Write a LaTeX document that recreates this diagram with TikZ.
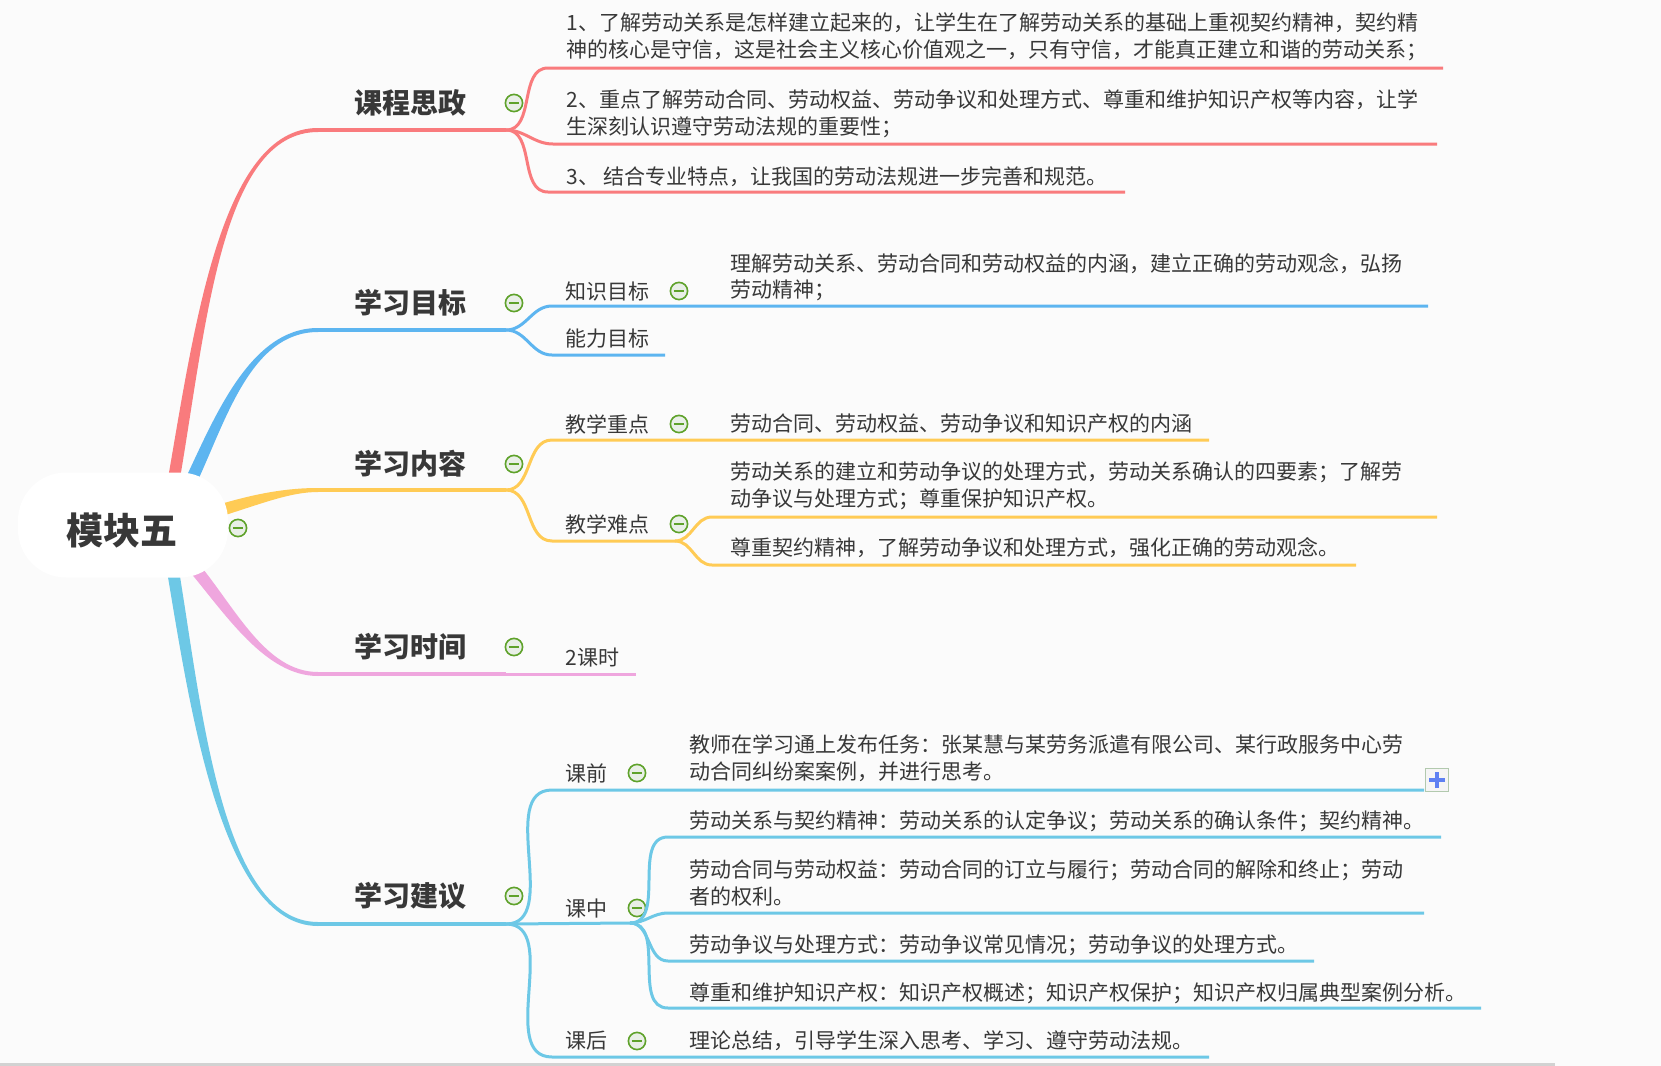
\documentclass[tikz,border=0pt]{standalone}
\usepackage{fontspec}
\setmainfont{Noto Sans CJK SC}
\usetikzlibrary{calc}
\definecolor{redB}{HTML}{F97B7D}
\definecolor{blueB}{HTML}{5DB5F0}
\definecolor{yellowB}{HTML}{FFCB55}
\definecolor{pinkB}{HTML}{EFA6DE}
\definecolor{cyanB}{HTML}{6DC8E6}
\definecolor{txtgrey}{HTML}{383838}
\definecolor{foldgreen}{HTML}{5FA22B}
\definecolor{foldfill}{HTML}{E9EFE7}
\definecolor{bgpaper}{HTML}{FBFBFB}
\definecolor{plusblue}{HTML}{5E80F2}
\definecolor{plusedge}{HTML}{B2C9AE}

\begin{document}
\begin{tikzpicture}[x=0.5pt, y=-0.5pt,
  hub/.style={rounded corners=24pt, fill=white, minimum width=105pt, minimum height=52.5pt, font=\fontsize{18.5}{22}\selectfont\bfseries, text=txtgrey},
  topic/.style={inner sep=0pt, font=\fontsize{14}{17}\selectfont\bfseries, text=txtgrey},
  leaf/.style={anchor=west, align=left, inner sep=0pt, font=\fontsize{10.5}{13.25}\selectfont, text=txtgrey},
  fold/.style={circle, draw=foldgreen, line width=0.8pt, fill=foldfill, minimum size=8.6pt, inner sep=0pt,
    path picture={\draw[foldgreen, line width=0.9pt] ($(path picture bounding box.center)+(-2.6pt,0pt)$) -- ($(path picture bounding box.center)+(2.6pt,0pt)$);}},
  plusbox/.style={rectangle, draw=plusedge, line width=0.9pt, fill=gray!8, minimum size=11.5pt, inner sep=0pt,
    path picture={\draw[plusblue, line width=2.2pt] ($(path picture bounding box.center)+(-4pt,0pt)$) -- ($(path picture bounding box.center)+(4pt,0pt)$);
                  \draw[plusblue, line width=2.2pt] ($(path picture bounding box.center)+(0pt,-4pt)$) -- ($(path picture bounding box.center)+(0pt,4pt)$);}},
  trunk/.style={line width=2pt},
  twig/.style={line width=1.5pt}
]
% paper
\fill[bgpaper] (0,0) rectangle (1661,1066);
\fill[gray!35] (0,1063) rectangle (1555,1066);

% branch roots and topic lines
\coordinate (s1) at (172,490);
\coordinate (s2) at (190,483);
\coordinate (s3) at (215,512);
\coordinate (s4) at (192,565);
\coordinate (s5) at (172,565);
\coordinate (kc-a) at (318,130); \coordinate (kc-f) at (506,130);
\coordinate (mb-a) at (318,330); \coordinate (mb-f) at (506,330);
\coordinate (nr-a) at (318,490); \coordinate (nr-f) at (506,490);
\coordinate (sj-a) at (318,674); \coordinate (sj-f) at (506,674);
\coordinate (jy-a) at (318,924); \coordinate (jy-f) at (506,924);

% main branches
\fill[redB] ($(s1)+(-6,0)$) .. controls +(28,-160) and +(-98,0) .. ($(kc-a)+(0,-2)$) -- ($(kc-a)+(0,2)$) .. controls +(-98,0) and +(28,-160) .. ($(s1)+(6,0)$) -- cycle;
\fill[blueB] ($(s2)+(-5.4,-2.6)$) .. controls +(30,-63) and +(-68,0) .. ($(mb-a)+(0,-2)$) -- ($(mb-a)+(0,2)$) .. controls +(-68,0) and +(30,-63) .. ($(s2)+(5.4,2.6)$) -- cycle;
\fill[yellowB] ($(s3)+(-1.8,-5.7)$) .. controls +(45,-14) and +(-28,0) .. ($(nr-a)+(0,-2)$) -- ($(nr-a)+(0,2)$) .. controls +(-28,0) and +(45,-14) .. ($(s3)+(1.8,5.7)$) -- cycle;
\fill[pinkB] ($(s4)+(-4.6,3.9)$) .. controls +(38,45) and +(-53,0) .. ($(sj-a)+(0,2)$) -- ($(sj-a)+(0,-2)$) .. controls +(-53,0) and +(38,45) .. ($(s4)+(4.6,-3.9)$) -- cycle;
\fill[cyanB] ($(s5)+(-5.9,1)$) .. controls +(23,135) and +(-98,0) .. ($(jy-a)+(0,2)$) -- ($(jy-a)+(0,-2)$) .. controls +(-98,0) and +(23,135) .. ($(s5)+(5.9,-1)$) -- cycle;
\draw[redB, trunk] (kc-a) -- (kc-f);
\draw[blueB, trunk] (mb-a) -- (mb-f);
\draw[yellowB, trunk] (nr-a) -- (nr-f);
\draw[pinkB, trunk] (sj-a) -- (sj-f);
\draw[cyanB, trunk] (jy-a) -- (jy-f);

% centre
\node[hub] (root) at (123,525) {};
\node[font=\fontsize{18.5}{22}\selectfont\bfseries, text=txtgrey, inner sep=0pt] (root-t) at (122,530) {模块五};
\node[fold] (root-o) at (238,528) {};

% 课程思政
\node[topic] (kc) at (410,103) {课程思政};
\node[fold] (kc-o) at (514,103) {};
\coordinate (kc1-a) at (548,68);  \coordinate (kc1-b) at (1443,68);
\coordinate (kc2-a) at (553,144); \coordinate (kc2-b) at (1437,144);
\coordinate (kc3-a) at (548,192); \coordinate (kc3-b) at (1125,192);
\draw[redB, twig] (kc-f) to[out=0,in=180] (kc1-a) -- (kc1-b);
\draw[redB, twig] (kc-f) to[out=0,in=180] (kc2-a) -- (kc2-b);
\draw[redB, twig] (kc-f) to[out=0,in=180] (kc3-a) -- (kc3-b);
\node[leaf] (kc1) at (566,37) {1、了解劳动关系是怎样建立起来的，让学生在了解劳动关系的基础上重视契约精神，契约精\\神的核心是守信，这是社会主义核心价值观之一，只有守信，才能真正建立和谐的劳动关系；};
\node[leaf] (kc2) at (566,114) {2、重点了解劳动合同、劳动权益、劳动争议和处理方式、尊重和维护知识产权等内容，让学\\生深刻认识遵守劳动法规的重要性；};
\node[leaf] (kc3) at (566,177) {3、 结合专业特点，让我国的劳动法规进一步完善和规范。};

% 学习目标
\node[topic] (mb) at (410,303) {学习目标};
\node[fold] (mb-o) at (514,303) {};
\coordinate (mb1-a) at (552,306); \coordinate (mb1-b) at (1428,306);
\coordinate (mb2-a) at (552,355); \coordinate (mb2-b) at (665,355);
\draw[blueB, twig] (mb-f) to[out=0,in=180] (mb1-a) -- (mb1-b);
\draw[blueB, twig] (mb-f) to[out=0,in=180] (mb2-a) -- (mb2-b);
\node[leaf] (mb1) at (565,291) {知识目标};
\node[fold] (mb1-o) at (679,291) {};
\node[leaf] (mb11) at (730,277) {理解劳动关系、劳动合同和劳动权益的内涵，建立正确的劳动观念，弘扬\\劳动精神；};
\node[leaf] (mb2) at (565,339) {能力目标};

% 学习内容
\node[topic] (nr) at (410,464) {学习内容};
\node[fold] (nr-o) at (514,464) {};
\coordinate (nr1-a) at (552,440); \coordinate (nr1-b) at (1209,440);
\coordinate (nr2-a) at (552,541); \coordinate (nr2-f) at (675,541);
\draw[yellowB, twig] (nr-f) to[out=0,in=180] (nr1-a) -- (nr1-b);
\draw[yellowB, twig] (nr-f) to[out=0,in=180] (nr2-a) -- (nr2-f);
\node[leaf] (nr1) at (565,424) {教学重点};
\node[fold] (nr1-o) at (679,424) {};
\node[leaf] (nr11) at (730,424) {劳动合同、劳动权益、劳动争议和知识产权的内涵};
\node[leaf] (nr2) at (565,524) {教学难点};
\node[fold] (nr2-o) at (679,524) {};
\coordinate (nr21-a) at (712,517); \coordinate (nr21-b) at (1437,517);
\coordinate (nr22-a) at (712,565); \coordinate (nr22-b) at (1356,565);
\draw[yellowB, twig] (nr2-f) to[out=0,in=180] (nr21-a) -- (nr21-b);
\draw[yellowB, twig] (nr2-f) to[out=0,in=180] (nr22-a) -- (nr22-b);
\node[leaf] (nr21) at (730,486) {劳动关系的建立和劳动争议的处理方式，劳动关系确认的四要素；了解劳\\动争议与处理方式；尊重保护知识产权。};
\node[leaf] (nr22) at (730,548) {尊重契约精神，了解劳动争议和处理方式，强化正确的劳动观念。};

% 学习时间
\node[topic] (sj) at (410,647) {学习时间};
\node[fold] (sj-o) at (514,647) {};
\coordinate (sj1-b) at (636,674);
\draw[pinkB, twig] (sj-f) -- (sj1-b);
\node[leaf] (sj1) at (565,658) {2课时};

% 学习建议
\node[topic] (jy) at (410,896) {学习建议};
\node[fold] (jy-o) at (514,896) {};
\coordinate (jy1-a) at (552,790);  \coordinate (jy1-b) at (1424,790);
\coordinate (jy2-f) at (630,923);
\coordinate (jy3-a) at (552,1057); \coordinate (jy3-b) at (1209,1057);
\draw[cyanB, twig] (jy-f) to[out=0,in=180] (jy1-a) -- (jy1-b);
\draw[cyanB, twig] (jy-f) -- (jy2-f);
\draw[cyanB, twig] (jy-f) to[out=0,in=180] (jy3-a) -- (jy3-b);
\node[leaf] (jy1) at (565,773) {课前};
\node[fold] (jy1-o) at (637,773) {};
\node[leaf] (jy11) at (689,758) {教师在学习通上发布任务：张某慧与某劳务派遣有限公司、某行政服务中心劳\\动合同纠纷案案例，并进行思考。};
\node[plusbox] (jy11-more) at (1437,780) {};
\node[leaf] (jy2) at (565,908) {课中};
\node[fold] (jy2-o) at (637,908) {};
\coordinate (c1-a) at (668,837);  \coordinate (c1-b) at (1441,837);
\coordinate (c2-a) at (668,913);  \coordinate (c2-b) at (1424,913);
\coordinate (c3-a) at (668,961);  \coordinate (c3-b) at (1314,961);
\coordinate (c4-a) at (668,1008); \coordinate (c4-b) at (1481,1008);
\draw[cyanB, twig] (jy2-f) to[out=0,in=180] (c1-a) -- (c1-b);
\draw[cyanB, twig] (jy2-f) to[out=0,in=180] (c2-a) -- (c2-b);
\draw[cyanB, twig] (jy2-f) to[out=0,in=180] (c3-a) -- (c3-b);
\draw[cyanB, twig] (jy2-f) to[out=0,in=180] (c4-a) -- (c4-b);
\node[leaf] (c1) at (689,821) {劳动关系与契约精神：劳动关系的认定争议；劳动关系的确认条件；契约精神。};
\node[leaf] (c2) at (689,883) {劳动合同与劳动权益：劳动合同的订立与履行；劳动合同的解除和终止；劳动\\者的权利。};
\node[leaf] (c3) at (689,945) {劳动争议与处理方式：劳动争议常见情况；劳动争议的处理方式。};
\node[leaf] (c4) at (689,993) {尊重和维护知识产权：知识产权概述；知识产权保护；知识产权归属典型案例分析。};
\node[leaf] (jy3) at (565,1041) {课后};
\node[fold] (jy3-o) at (637,1041) {};
\node[leaf] (jy31) at (689,1041) {理论总结，引导学生深入思考、学习、遵守劳动法规。};
\end{tikzpicture}
\end{document}
